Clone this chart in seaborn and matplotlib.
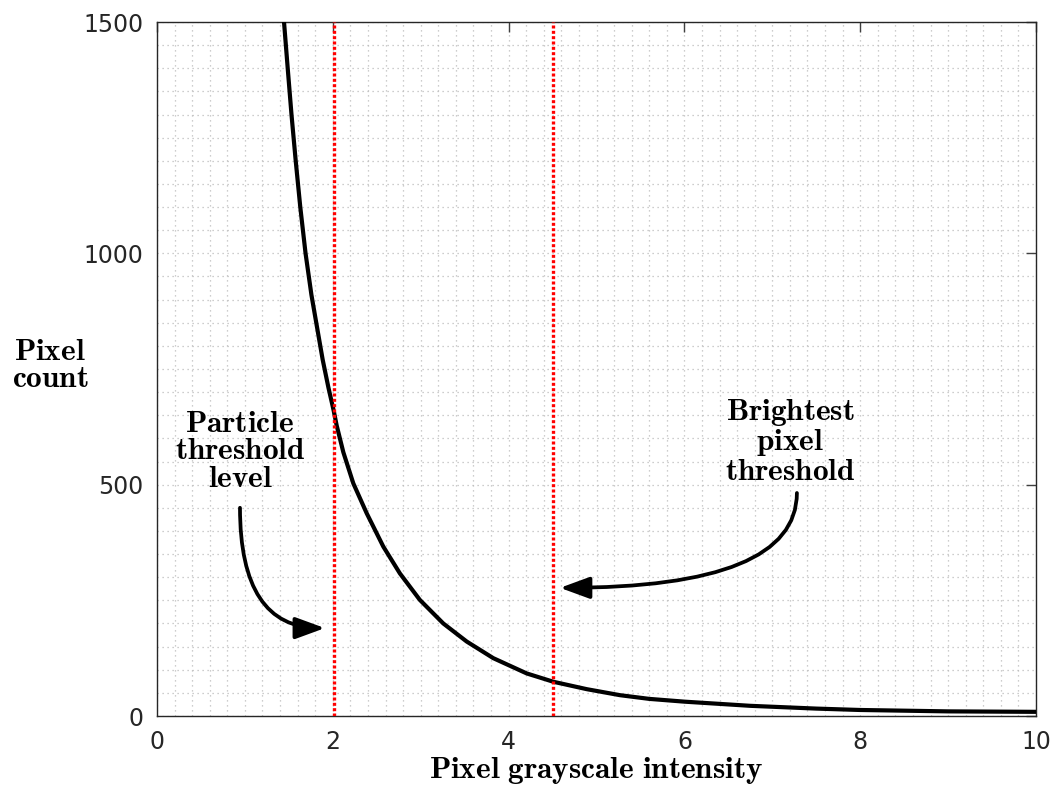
import numpy as np
import pandas as pd
import matplotlib
matplotlib.use("Agg")
import matplotlib.pyplot as plt
import seaborn as sns
from matplotlib.patches import FancyArrowPatch
from matplotlib.ticker import MultipleLocator

# Data
intensity = [1.445, 1.487, 1.530, 1.578, 1.630, 1.690, 1.757, 1.830, 1.885, 1.950, 2.010, 2.044,
             2.120, 2.233, 2.386, 2.575, 2.764, 2.990, 3.257, 3.523, 3.826, 4.206, 4.509,
             4.889, 5.267, 5.600, 6.000, 6.750, 7.500, 8.000, 9.000, 10.000]
count = [1500, 1400, 1300, 1200, 1100, 1000, 910, 830, 770, 710, 660, 628,
         570, 503, 438, 366, 308, 251, 200, 161, 125, 92, 74,
         58, 45, 37, 31, 22, 16, 13, 10, 9]
thresholds = [2.01, 4.50]
x_ticks = [0, 2, 4, 6, 8, 10]
y_ticks = [0, 500, 1000, 1500]
annot_particle = ["Particle", "threshold", "level"]
annot_bright = ["Brightest", "pixel", "threshold"]

df = pd.DataFrame({"intensity": intensity, "count": count})

sns.set_theme(style="white")
plt.rcParams["font.family"] = ["DejaVu Sans"]
plt.rcParams["mathtext.fontset"] = "cm"

fig = plt.figure(figsize=(10.52, 7.92), dpi=100)
ax = fig.add_axes([157/1052, 76/792, (1036-157)/1052, (716-22)/792])

sns.lineplot(data=df, x="intensity", y="count", ax=ax, color="black", linewidth=3.0,
             estimator=None, sort=False, zorder=3)

for t in thresholds:
    ax.axvline(t, color="#ff0000", linewidth=2.4, linestyle=(0, (0.9, 0.7)), zorder=4)

ax.set_xlim(0, 10)
ax.set_ylim(0, 1500)
ax.set_xticks(x_ticks)
ax.set_yticks(y_ticks)
ax.xaxis.set_minor_locator(MultipleLocator(0.2))
ax.yaxis.set_minor_locator(MultipleLocator(50))
ax.grid(which="both", color="#bdbdbd", linestyle=(0, (1, 3)), linewidth=0.9, zorder=0)
ax.set_axisbelow(True)

ax.tick_params(which="major", direction="in", length=7, width=1.0, color="#404040",
               top=True, right=True, labelsize=17, labelcolor="#262626", pad=10)
ax.tick_params(which="minor", length=0)
for s in ax.spines.values():
    s.set_color("#262626")
    s.set_linewidth(1.0)

def bf(s):
    return r"$\mathbf{" + s.replace(" ", r"\ ") + "}$"

FS = 22.5
ax.set_xlabel(bf("Pixel grayscale intensity"), fontsize=22.5, labelpad=1, color="black")
ax.set_ylabel("")
fig.text(50/1052, 1 - 365/792, bf("Pixel") + "\n" + bf("count"), fontsize=FS,
         ha="center", va="center", linespacing=0.95, color="black")

ax.text(0.944, 573, "\n".join(bf(w) for w in annot_particle), fontsize=FS,
        ha="center", va="center", linespacing=0.95, zorder=5, color="black")
ax.text(7.2, 594, "\n".join(bf(w) for w in annot_bright), fontsize=FS,
        ha="center", va="center", linespacing=0.95, zorder=5, color="black")

arrow_kw = dict(arrowstyle="-|>,head_length=0.9,head_width=0.33", color="black",
                linewidth=2.7, mutation_scale=20, zorder=6, shrinkA=0, shrinkB=0)
a1 = FancyArrowPatch((0.944, 450), (1.91, 190),
                     connectionstyle="angle3,angleA=90,angleB=0", **arrow_kw)
ax.add_patch(a1)
a2 = FancyArrowPatch((7.28, 482), (4.585, 277),
                     connectionstyle="angle3,angleA=90,angleB=0", **arrow_kw)
ax.add_patch(a2)

fig.savefig("out.png", dpi=100)
